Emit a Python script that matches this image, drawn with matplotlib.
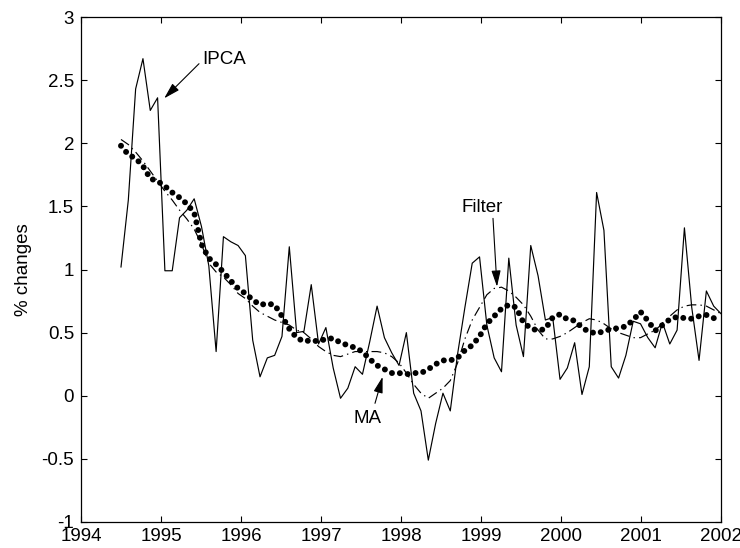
import numpy as np
import matplotlib.pyplot as plt

plt.rcParams.update({
    "font.family": ["Liberation Sans", "DejaVu Sans"],
    "font.size": 13.5,
    "lines.scale_dashes": False,
})

# ---------------- Data ----------------
# monthly observations spread over the plotted time span
dates = np.linspace(1994.5, 2002.0, 83)

ipca = [1.02, 1.55, 2.43, 2.67, 2.26, 2.36, 0.99, 0.99, 1.41, 1.47, 1.56,
        1.34, 1.03, 0.35, 1.26, 1.22, 1.19, 1.11, 0.44, 0.15, 0.30, 0.32, 0.47,
        1.18, 0.50, 0.51, 0.88, 0.41, 0.54, 0.22, -0.02, 0.06, 0.23, 0.17, 0.43,
        0.71, 0.46, 0.34, 0.24, 0.50, 0.02, -0.12, -0.51, -0.22, 0.02, -0.12, 0.33,
        0.70, 1.05, 1.10, 0.56, 0.30, 0.19, 1.09, 0.56, 0.31, 1.19, 0.95, 0.60,
        0.62, 0.13, 0.22, 0.42, 0.01, 0.23, 1.61, 1.31, 0.23, 0.14, 0.32, 0.59,
        0.57, 0.46, 0.38, 0.58, 0.41, 0.52, 1.33, 0.70, 0.28, 0.83, 0.71, 0.65]

ma = [1.98, 1.91, 1.88, 1.82, 1.72, 1.70, 1.66, 1.61, 1.57, 1.52, 1.45,
      1.20, 1.09, 1.04, 0.98, 0.91, 0.85, 0.81, 0.76, 0.72, 0.73, 0.72, 0.63,
      0.53, 0.46, 0.43, 0.44, 0.43, 0.45, 0.455, 0.42, 0.40, 0.38, 0.35, 0.29,
      0.24, 0.21, 0.18, 0.18, 0.17, 0.18, 0.18, 0.21, 0.25, 0.28, 0.28, 0.30,
      0.36, 0.40, 0.47, 0.57, 0.63, 0.69, 0.72, 0.70, 0.58, 0.535, 0.515, 0.53,
      0.62, 0.645, 0.605, 0.595, 0.54, 0.505, 0.495, 0.51, 0.53, 0.535, 0.55, 0.60,
      0.665, 0.595, 0.515, 0.56, 0.605, 0.625, 0.615, 0.61, 0.63, 0.64, 0.615, 0.61]

filt = [2.03, 1.99, 1.93, 1.86, 1.78, 1.70, 1.62, 1.55, 1.47, 1.40, 1.32,
        1.20, 1.05, 0.98, 0.94, 0.88, 0.81, 0.77, 0.71, 0.66, 0.63, 0.60, 0.58,
        0.56, 0.52, 0.50, 0.45, 0.39, 0.35, 0.32, 0.31, 0.33, 0.35, 0.35, 0.35,
        0.35, 0.34, 0.31, 0.26, 0.18, 0.09, 0.02, -0.02, 0.02, 0.06, 0.12, 0.26,
        0.45, 0.60, 0.70, 0.80, 0.85, 0.86, 0.83, 0.78, 0.72, 0.63, 0.52, 0.45,
        0.45, 0.47, 0.50, 0.54, 0.58, 0.61, 0.60, 0.57, 0.53, 0.50, 0.48, 0.46,
        0.46, 0.49, 0.52, 0.57, 0.63, 0.68, 0.71, 0.72, 0.72, 0.71, 0.68, 0.65]

xticks = [1994, 1995, 1996, 1997, 1998, 1999, 2000, 2001, 2002]
yticks = [-1, -0.5, 0, 0.5, 1, 1.5, 2, 2.5, 3]
ytick_labels = ["-1", "-0.5", "0", "0.5", "1", "1.5", "2", "2.5", "3"]

# ---------------- Plot ----------------
fig = plt.figure(figsize=(7.4, 5.48), dpi=100)
ax = fig.add_axes([81 / 740, 26 / 548, 640 / 740, 505 / 548])

ax.plot(dates, ipca, color="black", lw=0.85)
ax.plot(dates, filt, color="black", lw=0.85, linestyle=(0, (7, 3, 1, 3)))
ax.plot(dates, ma, color="black", lw=4.3, linestyle=(0, (0.01, 5.7)),
        dash_capstyle="round")

ax.set_xlim(1994, 2002)
ax.set_ylim(-1, 3)
ax.set_xticks(xticks)
ax.set_xticklabels([str(y) for y in xticks])
ax.set_yticks(yticks)
ax.set_yticklabels(ytick_labels)
ax.tick_params(direction="in", length=4, width=0.8, top=True, right=True,
               labelsize=13.5)
ax.tick_params(axis="x", pad=4.5)
ax.tick_params(axis="y", pad=5)
for s in ax.spines.values():
    s.set_linewidth(0.9)

ax.set_ylabel("% changes", fontsize=13.5)
ax.yaxis.set_label_coords(-0.076, 0.5)

arrow = dict(arrowstyle="-|>,head_length=0.7,head_width=0.2", color="black",
             lw=0.8, mutation_scale=14, shrinkA=0, shrinkB=0)

ax.annotate("", xy=(1995.04, 2.356), xytext=(1995.475, 2.63), arrowprops=arrow)
ax.text(1995.51, 2.66, "IPCA", ha="left", va="center")

ax.annotate("", xy=(1997.77, 0.15), xytext=(1997.675, -0.06), arrowprops=arrow)
ax.text(1997.58, -0.18, "MA", ha="center", va="center")

ax.annotate("", xy=(1999.2, 0.864), xytext=(1999.15, 1.405), arrowprops=arrow)
ax.text(1999.02, 1.49, "Filter", ha="center", va="center")

fig.savefig("out.png", dpi=100)
